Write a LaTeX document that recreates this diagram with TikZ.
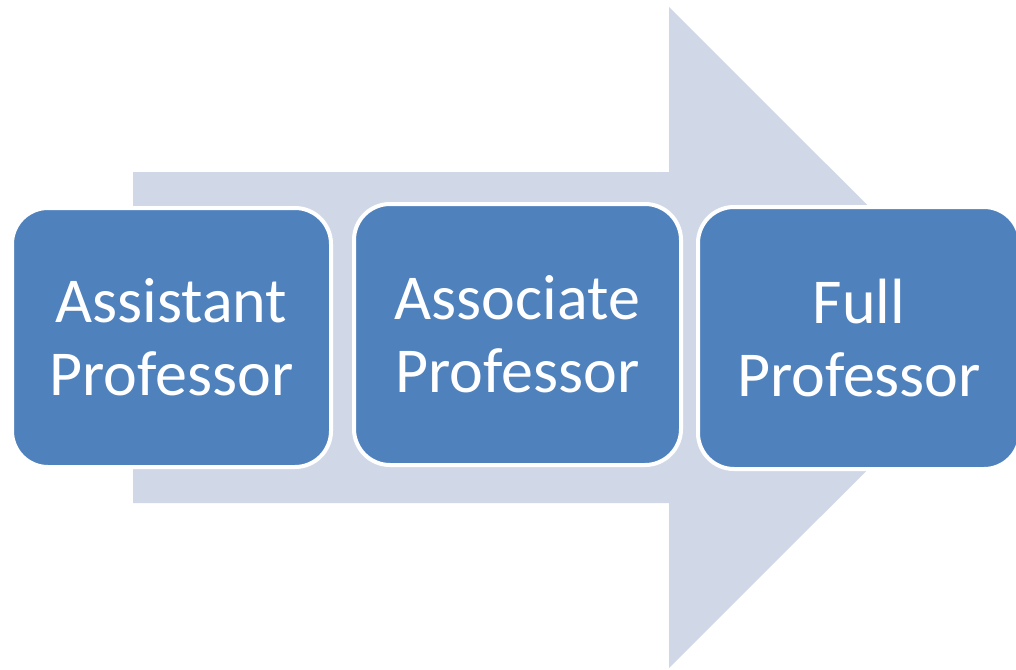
\documentclass[tikz,border=0pt]{standalone}
\usepackage{fontspec}
\setmainfont{Carlito}
\definecolor{arrowfill}{HTML}{D0D8E8}
\definecolor{boxfill}{HTML}{4F81BD}
\tikzset{
  stagebox/.style={draw=white, line width=4pt, fill=boxfill, rounded corners=36pt,
    text=white, align=center, inner sep=0pt,
    font=\fontsize{64pt}{73pt}\selectfont},
}
\begin{document}
\begin{tikzpicture}[x=1pt,y=-1pt]
\useasboundingbox (0,0) rectangle (1016,669);
\clip (0,0) rectangle (1016,669);
\fill[arrowfill] (133,172) -- (669,172) -- (669,7) -- (1000,337.5) -- (669,668) -- (669,503) -- (133,503) -- cycle;
\node[stagebox, minimum width=319pt, minimum height=259pt] (asst) at (171.5,337.5) {Assistant\\Professor};
\node[stagebox, minimum width=327pt, minimum height=261pt] (assoc) at (517.5,334.5) {Associate\\Professor};
\node[stagebox, minimum width=322pt, minimum height=262pt] (full) at (859,338) {Full\\Professor};
\end{tikzpicture}
\end{document}
